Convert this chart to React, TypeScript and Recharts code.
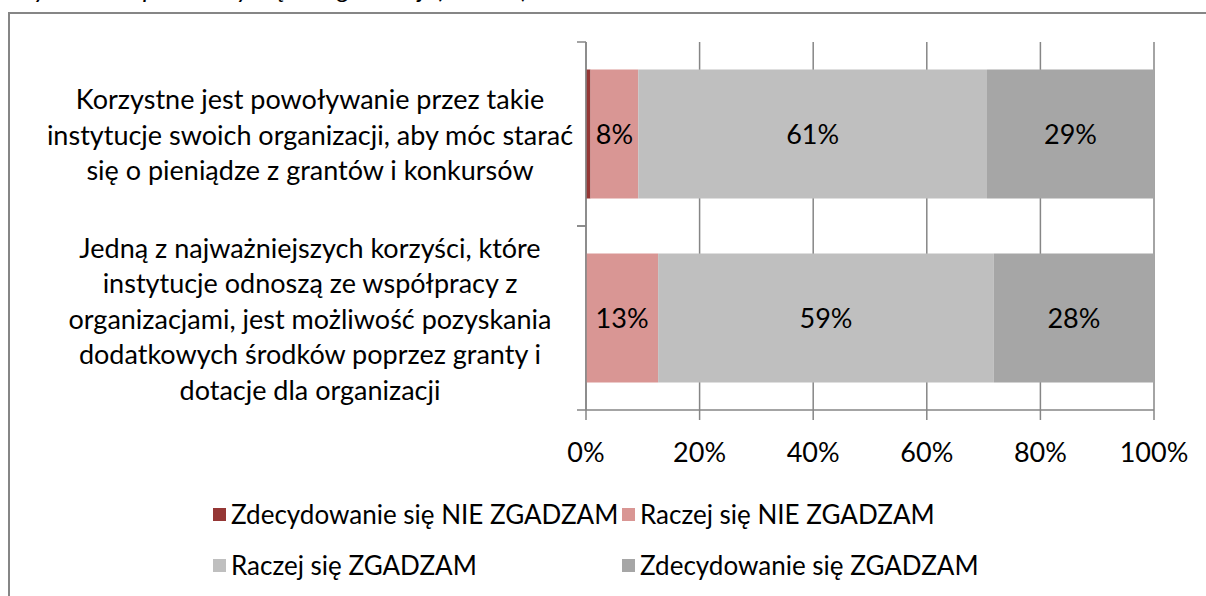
import React from 'react';
import { BarChart, Bar, XAxis, YAxis, CartesianGrid, LabelList, Legend } from 'recharts';

const categories = [
  'Korzystne jest powoływanie przez takie\ninstytucje swoich organizacji, aby móc starać\nsię o pieniądze z grantów i konkursów',
  'Jedną z najważniejszych korzyści, które\ninstytucje odnoszą ze współpracy z\norganizacjami, jest możliwość pozyskania\ndodatkowych środków poprzez granty i\ndotacje dla organizacji',
];
const seriesNames = [
  'Zdecydowanie się NIE ZGADZAM',
  'Raczej się NIE ZGADZAM',
  'Raczej się ZGADZAM',
  'Zdecydowanie się ZGADZAM',
];
const strongDisagree = [0.8, 0];
const ratherDisagree = [8.4, 12.7];
const ratherAgree = [61.4, 59.1];
const strongAgree = [29.4, 28.2];
const xTicks = [0, 20, 40, 60, 80, 100];
const titleText = 'Wykres 7. Opinie dotyczące organizacji (N=120)';

const colors = ['#953735', '#d99694', '#bfbfbf', '#a6a6a6'];
const keys = ['s1', 's2', 's3', 's4'];
const FONT = 'Lato, Carlito, Calibri, sans-serif';
const FS = 27;
const AXIS = '#868686';

const data = categories.map((c, i) => ({
  name: c,
  s1: strongDisagree[i],
  s2: ratherDisagree[i],
  s3: ratherAgree[i],
  s4: strongAgree[i],
}));

function CatTick(props: any) {
  const { x, y, payload } = props;
  const lines = String(payload.value).split('\n');
  const lh = 35.5;
  const half = payload.offset ?? 0;
  const cx = x - 267;
  const startY = y - ((lines.length - 1) * lh) / 2;
  return (
    <g>
      <line x1={x} x2={x + 9} y1={y - half} y2={y - half} stroke={AXIS} strokeWidth={1.5} />
      <line x1={x} x2={x + 9} y1={y + half} y2={y + half} stroke={AXIS} strokeWidth={1.5} />
      <text x={cx} y={startY} textAnchor="middle" fontSize={FS} fontFamily={FONT} fill="#000">
        {lines.map((l, i) => (
          <tspan key={i} x={cx} y={startY + i * lh} dominantBaseline="central">
            {l}
          </tspan>
        ))}
      </text>
    </g>
  );
}

function LegendContent(props: any) {
  const payload = [...(props.payload || [])].sort(
    (a: any, b: any) => seriesNames.indexOf(a.value) - seriesNames.indexOf(b.value)
  );
  return (
    <div
      style={{
        display: 'grid',
        gridTemplateColumns: '409px 420px',
        rowGap: 15,
        paddingLeft: 213,
        fontFamily: FONT,
        fontSize: 26,
        color: '#000',
      }}
    >
      {payload.map((p: any, i: number) => (
        <div key={i} style={{ display: 'flex', alignItems: 'center', height: 36, whiteSpace: 'nowrap' }}>
          <span style={{ width: 13, height: 13, background: p.color, display: 'inline-block', marginRight: 5 }} />
          <span>{p.value}</span>
        </div>
      ))}
    </div>
  );
}

export default function App() {
  return (
    <div style={{ position: 'absolute', left: 0, top: 0, width: 1206, height: 596, overflow: 'hidden', background: '#fff' }}>
      <svg style={{ position: 'absolute', left: 0, top: 0 }} width={700} height={12}>
        <text x={10} y={-2} fontSize={26} fontStyle="italic" fontFamily={FONT} fill="#000">
          {titleText}
        </text>
      </svg>
      <div
        style={{
          position: 'absolute',
          left: 8,
          top: 12,
          width: 1300,
          height: 700,
          border: `2px solid ${AXIS}`,
          boxSizing: 'border-box',
        }}
      />
      <div style={{ position: 'absolute', left: 0, top: 0 }}>
        <BarChart
          width={1206}
          height={596}
          data={data}
          layout="vertical"
          margin={{ top: 42, right: 52, bottom: 136, left: 0 }}
          barCategoryGap="15%"
        >
          <CartesianGrid horizontal={false} vertical stroke={AXIS} strokeWidth={1.5} />
          <XAxis
            type="number"
            domain={[0, 100]}
            ticks={xTicks}
            tickFormatter={(v: number) => `${v}%`}
            height={50}
            tickSize={10}
            tickMargin={23}
            axisLine={{ stroke: AXIS, strokeWidth: 1.5 }}
            tickLine={{ stroke: AXIS, strokeWidth: 1.5 }}
            tick={{ fill: '#000', fontSize: FS, fontFamily: FONT }}
            allowDataOverflow
          />
          <YAxis
            type="category"
            dataKey="name"
            width={586}
            tickSize={9}
            tickMargin={0}
            tickLine={false}
            axisLine={{ stroke: AXIS, strokeWidth: 1.5 }}
            tick={<CatTick />}
            interval={0}
          />
          <Legend
            layout="horizontal"
            verticalAlign="middle"
            align="center"
            wrapperStyle={{ top: 496, left: 0, width: 1206 }}
            content={<LegendContent />}
          />
          {keys.map((k, i) => (
            <Bar key={k} dataKey={k} name={seriesNames[i]} stackId="a" fill={colors[i]} isAnimationActive={false}>
              {i > 0 && (
                <LabelList
                  dataKey={k}
                  position="center"
                  fill="#000"
                  fontSize={FS}
                  fontFamily={FONT}
                  formatter={(v: any) => (Number(v) >= 3 ? `${Math.round(Number(v))}%` : '')}
                />
              )}
            </Bar>
          ))}
        </BarChart>
      </div>
    </div>
  );
}
